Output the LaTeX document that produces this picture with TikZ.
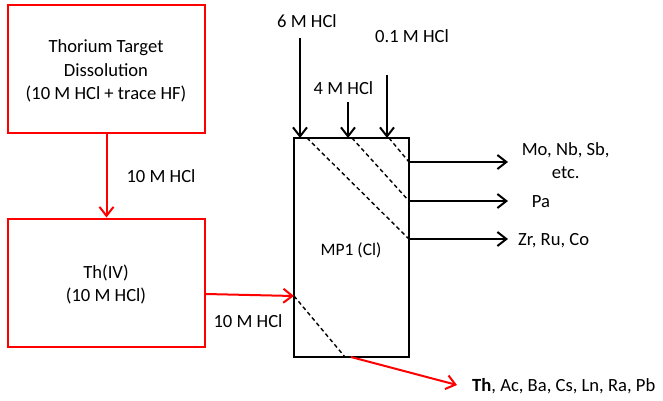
\documentclass[tikz,border=0pt]{standalone}
\usepackage{fontspec}
\setmainfont{Carlito}
\usetikzlibrary{arrows.meta}
\begin{document}
\begin{tikzpicture}[x=1pt,y=-1pt,
  every node/.style={font=\fontsize{18.6}{23.5}\selectfont, inner sep=0pt},
  redbox/.style={draw=red, line width=2pt, minimum width=197pt, minimum height=128pt},
  column/.style={draw=black, line width=2pt, minimum width=115pt, minimum height=219pt},
  blackarrow/.style={draw=black, line width=2pt, -{Straight Barb[length=9pt,width=14pt]}},
  redarrow/.style={draw=red, line width=2pt, -{Straight Barb[length=9pt,width=14pt]}},
  bed/.style={draw=black, line width=1.4pt, dash pattern=on 4pt off 3pt},
  lbl/.style={anchor=base}
]
\useasboundingbox (0,0) rectangle (663,400);

% boxes
\node[redbox] (diss) at (106.5,69) {};
\node[lbl] (d1) at (106,52.5) {Thorium Target};
\node[lbl] (d2) at (106,76) {Dissolution};
\node[lbl] (d3) at (106,99.5) {(10 M HCl + trace HF)};

\node[redbox] (th) at (106.5,282.5) {};
\node[lbl] (t1) at (106,278.3) {Th(IV)};
\node[lbl] (t2) at (106,301.7) {(10 M HCl)};

\node[column] (col) at (351.5,247.5) {};
\node[lbl, font=\fontsize{17.5}{21}\selectfont] (mp) at (351,255) {MP1 (Cl)};

% red flow
\draw[redarrow] (diss.south) -- (th.north);
\node[lbl] (l10a) at (161,182.7) {10 M HCl};

\coordinate (thout) at (206,294);
\coordinate (colin) at (294,296);
\draw[redarrow] (thout) -- (colin);
\node[lbl] (l10b) at (248,327.3) {10 M HCl};

% bottom dashed and output
\coordinate (bd) at (345,357);
\coordinate (bo) at (351,357);
\coordinate (bend) at (457,385);
\draw[bed] (colin) -- (bd);
\draw[redarrow] (bo) -- (bend);
\node[anchor=base west] (thlist) at (472,391.7) {\textbf{Th}, Ac, Ba, Cs, Ln, Ra, Pb};

% feed arrows
\coordinate (f6s) at (300,38);
\coordinate (f6e) at (300,138);
\coordinate (f4s) at (348,102);
\coordinate (f4e) at (348,138);
\coordinate (f01s) at (387,75);
\coordinate (f01e) at (387,138);
\draw[blackarrow] (f6s) -- (f6e);
\draw[blackarrow] (f4s) -- (f4e);
\draw[blackarrow] (f01s) -- (f01e);
\node[lbl] (l6) at (307,27.5) {6 M HCl};
\node[lbl] (l4) at (343.5,94) {4 M HCl};
\node[lbl] (l01) at (412,42.5) {0.1 M HCl};

% dashed bands
\coordinate (d1s) at (307,138);
\coordinate (d1e) at (409,239);
\coordinate (d2s) at (352,138);
\coordinate (d2e) at (409,201);
\coordinate (d3s) at (389,138);
\coordinate (d3e) at (409,162);
\draw[bed] (d1s) -- (d1e);
\draw[bed] (d2s) -- (d2e);
\draw[bed] (d3s) -- (d3e);

% outputs
\coordinate (o1) at (508,162);
\coordinate (o2) at (508,201);
\coordinate (o3) at (508,239);
\draw[blackarrow] (d3e) -- (o1);
\draw[blackarrow] (d2e) -- (o2);
\draw[blackarrow] (d1e) -- (o3);
\node[lbl] (m1) at (565.7,155) {Mo, Nb, Sb,};
\node[lbl] (m2) at (565.7,178.3) {etc.};
\node[anchor=base west] (pa) at (531.7,207.3) {Pa};
\node[anchor=base west] (zr) at (518,245) {Zr, Ru, Co};
\end{tikzpicture}
\end{document}
